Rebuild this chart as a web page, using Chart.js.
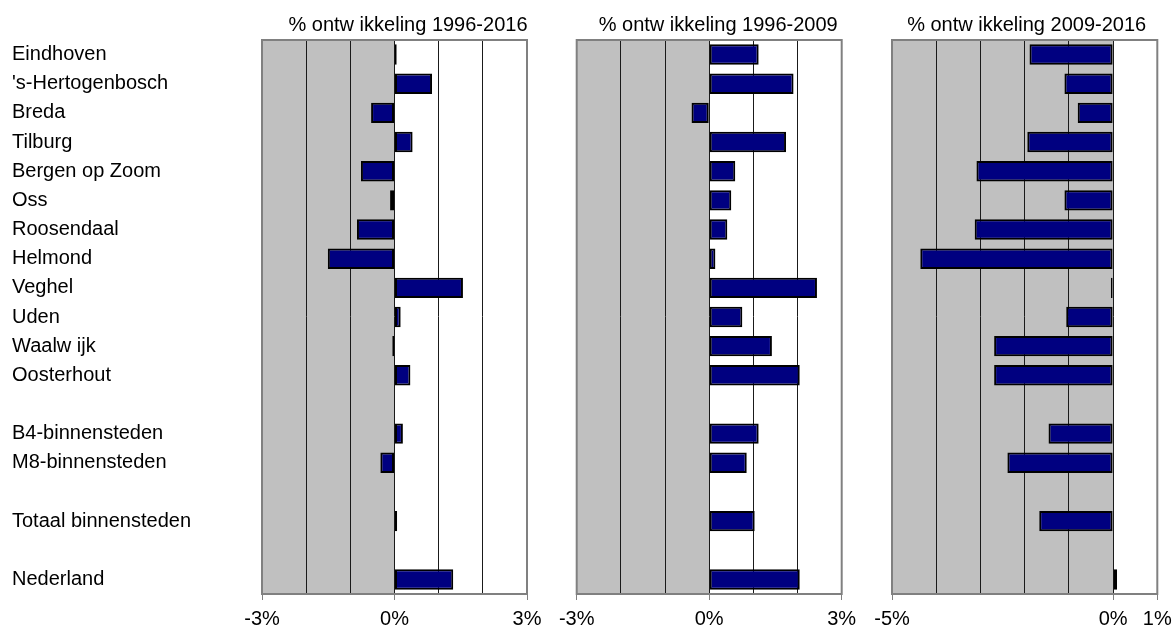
<!DOCTYPE html>
<html>
<head>
<meta charset="utf-8">
<script src="https://cdn.jsdelivr.net/npm/chart.js@4.4.1/dist/chart.umd.min.js"></script>
<style>
  html, body { margin: 0; padding: 0; background: #ffffff; }
  body { width: 1175px; height: 631px; position: relative; overflow: hidden; }
  canvas { position: absolute; top: 0; }
</style>
</head>
<body>
<canvas id="c1" width="545" height="631" style="left:0px"></canvas>
<canvas id="c2" width="320" height="631" style="left:545px"></canvas>
<canvas id="c3" width="310" height="631" style="left:865px"></canvas>
<script>
// ---- data ----
const categories = ['Eindhoven', "'s-Hertogenbosch", 'Breda', 'Tilburg', 'Bergen op Zoom', 'Oss',
  'Roosendaal', 'Helmond', 'Veghel', 'Uden', 'Waalw ijk', 'Oosterhout', '',
  'B4-binnensteden', 'M8-binnensteden', '', 'Totaal binnensteden', '', 'Nederland'];

const values1996_2016 = [0.05, 0.85, -0.53, 0.41, -0.76, -0.10, -0.85, -1.51, 1.55, 0.14, -0.05, 0.36,
  null, 0.19, -0.32, null, 0.06, null, 1.33];
const values1996_2009 = [1.12, 1.91, -0.40, 1.74, 0.59, 0.50, 0.41, 0.14, 2.44, 0.75, 1.42, 2.05,
  null, 1.12, 0.85, null, 1.03, null, 2.05];
const values2009_2016 = [-1.89, -1.10, -0.80, -1.94, -3.09, -1.10, -3.13, -4.36, -0.05, -1.06, -2.69, -2.69,
  null, -1.46, -2.39, null, -1.67, null, 0.09];

const titles = ['% ontw ikkeling 1996-2016', '% ontw ikkeling 1996-2009', '% ontw ikkeling 2009-2016'];
const axisRanges = [[-3, 3], [-3, 3], [-5, 1]];
const tickLabels1 = [-3, 0, 3];
const tickLabels2 = [-3, 0, 3];
const tickLabels3 = [-5, 0, 1];

// ---- styling ----
const FONT = "'Liberation Sans', Arial, sans-serif";
Chart.defaults.font.family = FONT;
Chart.defaults.font.size = 20;
Chart.defaults.color = '#000000';

const panelPlugin = {
  id: 'panel',
  beforeDraw(chart, args, opts) {
    const { ctx, chartArea: a, scales: { x } } = chart;
    const x0 = x.getPixelForValue(x.min);
    const xz = x.getPixelForValue(0);
    ctx.save();
    ctx.fillStyle = '#ffffff';
    ctx.fillRect(a.left, a.top, a.right - a.left, a.bottom - a.top);
    ctx.fillStyle = '#c0c0c0';
    ctx.fillRect(x0, a.top, xz - x0, a.bottom - a.top);
    ctx.restore();
  },
  beforeDatasetsDraw(chart) {
    const { ctx, chartArea: a } = chart;
    ctx.save();
    ctx.strokeStyle = '#808080';
    ctx.lineWidth = 2;
    ctx.strokeRect(a.left, a.top, a.right - a.left, a.bottom - a.top);
    ctx.restore();
  },
  afterDraw(chart, args, opts) {
    const { ctx, chartArea: a } = chart;
    ctx.save();
    ctx.font = '20px ' + FONT;
    ctx.fillStyle = '#000000';
    ctx.textAlign = 'center';
    ctx.textBaseline = 'alphabetic';
    ctx.fillText(opts.text, (a.left + a.right) / 2 + opts.dx, 30.5);
    ctx.restore();
  }
};

function makeChart(id, values, range, shown, title, titleDx, pad, yWidth, showY) {
  const [mn, mx] = range;
  return new Chart(document.getElementById(id), {
    type: 'bar',
    data: {
      labels: categories,
      datasets: [{
        data: values,
        backgroundColor: '#000080',
        borderColor: '#000000',
        borderWidth: 2,
        borderSkipped: false,
        barPercentage: 0.7,
        categoryPercentage: 1.0
      }]
    },
    options: {
      indexAxis: 'y',
      responsive: false,
      animation: false,
      layout: { padding: { left: pad[0], right: pad[1], top: 40, bottom: 0 } },
      plugins: {
        legend: { display: false },
        title: { display: false },
        tooltip: { enabled: false },
        panel: { text: title, dx: titleDx }
      },
      scales: {
        x: {
          type: 'linear',
          min: mn,
          max: mx,
          afterFit(scale) {
            scale.height = 37;
            scale.paddingLeft = 0;
            scale.paddingRight = 0;
          },
          ticks: {
            stepSize: 1,
            autoSkip: false,
            maxRotation: 0,
            padding: 7,
            font: { size: 20 },
            color: '#000000',
            callback: (v) => shown.includes(v) ? v + '%' : ''
          },
          grid: {
            drawOnChartArea: true,
            drawTicks: true,
            tickLength: 6,
            lineWidth: 1,
            color: (c) => (c.tick && (c.tick.value === mn || c.tick.value === mx)) ? '#808080' : '#1a1a1a',
            tickColor: (c) => (c.tick && shown.includes(c.tick.value)) ? '#808080' : 'rgba(0,0,0,0)'
          },
          border: { display: true, color: '#808080', width: 2 }
        },
        y: {
          type: 'category',
          afterFit(scale) { scale.width = yWidth; },
          grid: { display: false },
          border: { display: false },
          ticks: {
            display: showY,
            autoSkip: false,
            crossAlign: 'far',
            padding: 0,
            font: { size: 20 },
            color: '#000000'
          }
        }
      }
    },
    plugins: [panelPlugin]
  });
}

makeChart('c1', values1996_2016, axisRanges[0], tickLabels1, titles[0], 13.5, [12, 18], 250, true);
makeChart('c2', values1996_2009, axisRanges[1], tickLabels2, titles[1], 9, [31.7, 23.3], 0, false);
makeChart('c3', values2009_2016, axisRanges[2], tickLabels3, titles[2], 2, [27, 17.7], 0, false);
</script>
</body>
</html>
